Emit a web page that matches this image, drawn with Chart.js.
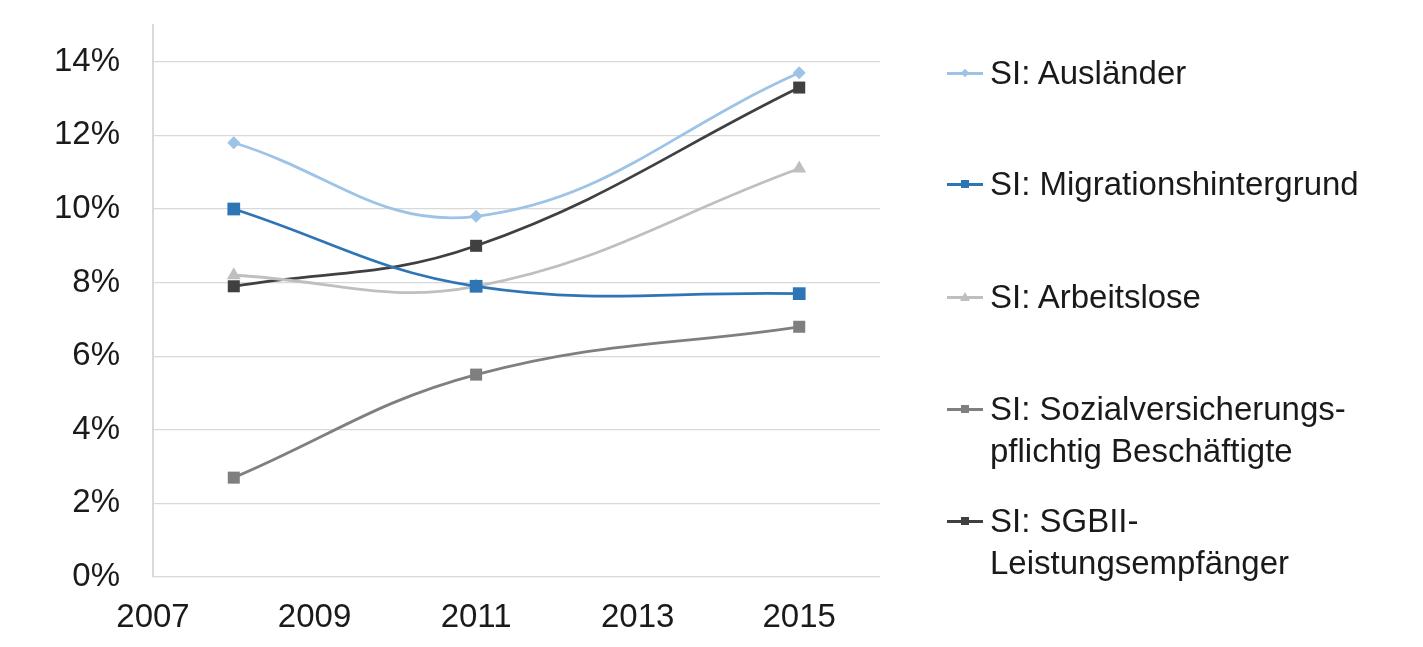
<!DOCTYPE html>
<html>
<head>
<meta charset="utf-8">
<script src="https://cdn.jsdelivr.net/npm/chart.js@4.4.1/dist/chart.umd.min.js"></script>
<style>
  body { margin: 0; background: #fff; font-family: "Liberation Sans", Arial, sans-serif; }
  #wrap { position: relative; width: 1423px; height: 647px; }
  #legend { position: absolute; left: 947px; top: 0; }
  .item { position: absolute; left: 0; white-space: nowrap; font-size: 33px; line-height: 42px; color: #1a1a1a; }
  .key { position: absolute; left: 0; top: 20px; width: 36px; height: 3px; }
  .mark { position: absolute; left: 14px; top: -3px; width: 8px; height: 8px; }
  .txt { position: absolute; left: 43px; top: 0; }
</style>
</head>
<body>
<div id="wrap">
  <canvas id="chart" width="1423" height="647"></canvas>
  <div id="legend"></div>
</div>
<script>
// Jahre und Werte (Anteil in %)
var years = [2008, 2011, 2015];
var auslaender = [11.8, 9.8, 13.7];
var migration = [10.0, 7.9, 7.7];
var arbeitslose = [8.2, 7.9, 11.1];
var sozialvers = [2.7, 5.5, 6.8];
var sgb2 = [7.9, 9.0, 13.3];

var xTicks = [2007, 2009, 2011, 2013, 2015];
var yTicks = [0, 2, 4, 6, 8, 10, 12, 14];

var labels = ["SI: Ausländer", "SI: Migrationshintergrund", "SI: Arbeitslose",
  "SI: Sozialversicherungs-\npflichtig Beschäftigte", "SI: SGBII-\nLeistungsempfänger"];
var colors = ["#9DC3E6", "#2E75B6", "#BFBFBF", "#7F7F7F", "#404040"];
var shapes = ["rectRot", "rect", "triangle", "rect", "rect"];
var radii = [6.5, 9, 8, 8.5, 8.5];
var legendTop = [52, 163, 276, 388, 500];
var allData = [auslaender, migration, arbeitslose, sozialvers, sgb2];

function pts(vals) {
  return vals.map(function(v, i){ return {x: years[i], y: v}; });
}

var datasets = allData.map(function(vals, i){
  return {
    label: labels[i],
    data: pts(vals),
    borderColor: colors[i],
    backgroundColor: colors[i],
    borderWidth: 2.8,
    tension: 0.4,
    pointStyle: shapes[i],
    pointRadius: radii[i],
    pointBorderWidth: 0,
    pointBackgroundColor: colors[i]
  };
});

var fontSpec = { family: "'Liberation Sans', Arial, sans-serif", size: 33 };

new Chart(document.getElementById('chart').getContext('2d'), {
  type: 'line',
  data: { datasets: datasets },
  options: {
    responsive: false,
    animation: false,
    layout: { padding: { top: 25, right: 543, left: 0, bottom: 0 } },
    plugins: { legend: { display: false }, tooltip: { enabled: false } },
    scales: {
      x: {
        type: 'linear',
        min: 2007,
        max: 2016,
        afterBuildTicks: function(axis){ axis.ticks = xTicks.map(function(v){ return {value: v}; }); },
        afterFit: function(axis){ axis.height = 70; axis.paddingLeft = 0; axis.paddingRight = 0; },
        grid: { display: false, drawTicks: false },
        border: { display: false },
        ticks: { color: '#1a1a1a', font: fontSpec, padding: 21, maxRotation: 0,
          callback: function(v){ return String(v); } }
      },
      y: {
        min: 0,
        max: 15,
        afterBuildTicks: function(axis){ axis.ticks = yTicks.map(function(v){ return {value: v}; }); },
        afterFit: function(axis){ axis.width = 153; axis.paddingTop = 0; axis.paddingBottom = 0; },
        grid: { color: '#d9d9d9', lineWidth: 1.2, drawTicks: false },
        border: { display: true, color: '#d9d9d9', width: 2 },
        ticks: { color: '#1a1a1a', font: fontSpec, padding: 33,
          callback: function(v){ return v + '%'; } }
      }
    }
  }
});

// Legende rechts
var lg = document.getElementById('legend');
labels.forEach(function(lab, i){
  var it = document.createElement('div');
  it.className = 'item';
  it.style.top = legendTop[i] + 'px';
  var key = document.createElement('div');
  key.className = 'key';
  key.style.background = colors[i];
  var m = document.createElement('div');
  m.className = 'mark';
  if (shapes[i] == 'triangle') {
    m.style.width = '0'; m.style.height = '0';
    m.style.borderLeft = '5px solid transparent';
    m.style.borderRight = '5px solid transparent';
    m.style.borderBottom = '9px solid ' + colors[i];
    m.style.top = '-4px'; m.style.left = '13px';
  } else {
    m.style.background = colors[i];
    if (shapes[i] == 'rectRot') { m.style.transform = 'rotate(45deg)'; m.style.width = '6px'; m.style.height = '6px'; m.style.top = '-2px'; m.style.left = '15px'; }
  }
  key.appendChild(m);
  var t = document.createElement('div');
  t.className = 'txt';
  t.innerHTML = lab.split('\n').join('<br>');
  it.appendChild(key);
  it.appendChild(t);
  lg.appendChild(it);
});
</script>
</body>
</html>
